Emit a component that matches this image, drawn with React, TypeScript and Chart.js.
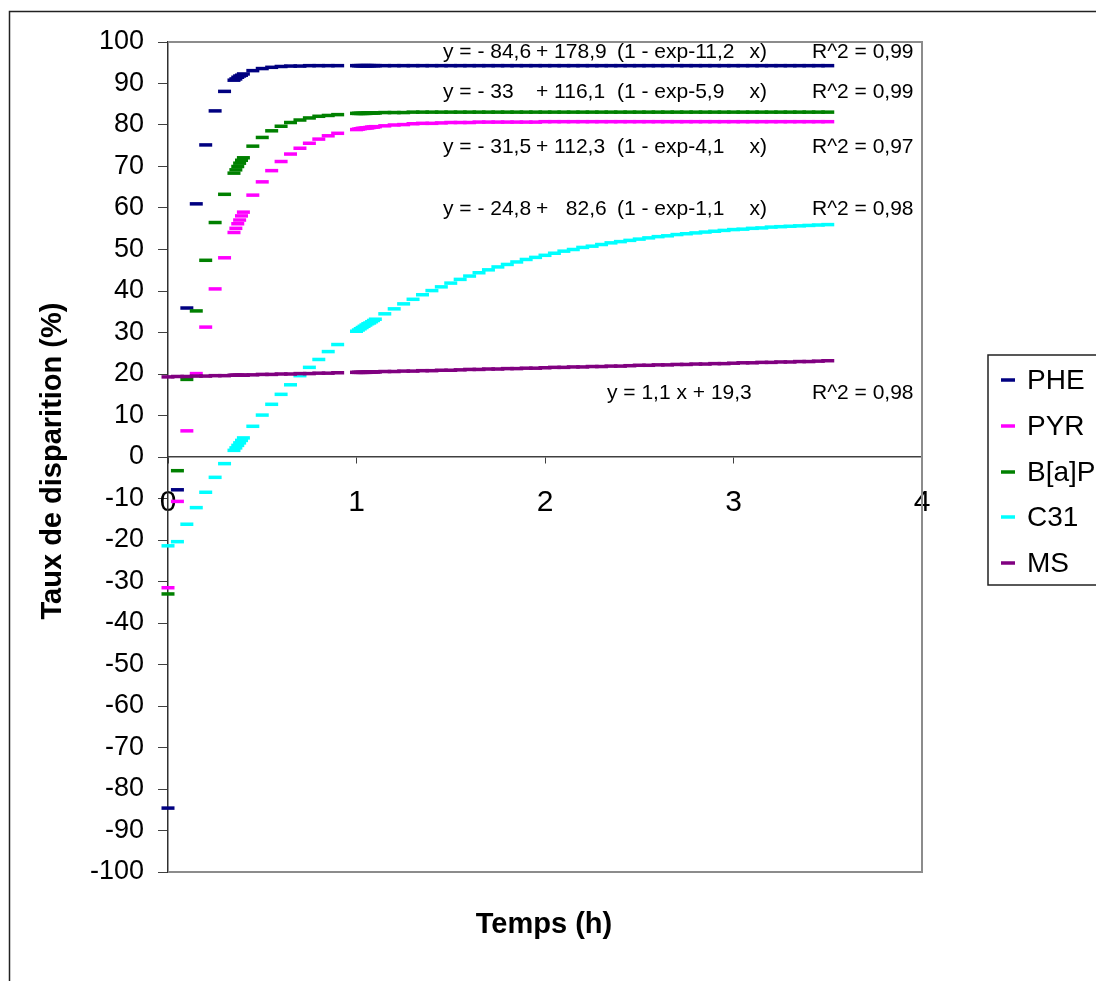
import React, { useEffect, useRef } from 'react';
import { Chart, registerables } from 'chart.js';

Chart.register(...registerables);

// ---------- data ----------
const TIME_H = [
  0, 0.05, 0.1, 0.15, 0.2, 0.25, 0.3,
  0.35, 0.36, 0.37, 0.38, 0.39, 0.4,
  0.45, 0.5, 0.55, 0.6, 0.65, 0.7, 0.75, 0.8, 0.85, 0.9,
  1.0, 1.01, 1.02, 1.03, 1.04, 1.05, 1.06, 1.07, 1.08, 1.09, 1.1,
  1.15, 1.2, 1.25, 1.3, 1.35, 1.4, 1.45, 1.5, 1.55, 1.6, 1.65, 1.7, 1.75, 1.8, 1.85, 1.9, 1.95, 2.0,
  2.05, 2.1, 2.15, 2.2, 2.25, 2.3, 2.35, 2.4, 2.45, 2.5, 2.55, 2.6, 2.65, 2.7, 2.75, 2.8, 2.85, 2.9, 2.95, 3.0,
  3.05, 3.1, 3.15, 3.2, 3.25, 3.3, 3.35, 3.4, 3.45, 3.5,
];

const PHE = [
  -84.6, -7.9, 35.9, 61.0, 75.2, 83.4, 88.1,
  90.8, 91.1, 91.5, 91.8, 92.0, 92.3,
  93.1, 93.6, 93.9, 94.1, 94.2, 94.2, 94.3, 94.3, 94.3, 94.3,
  94.3, 94.3, 94.3, 94.3, 94.3, 94.3, 94.3, 94.3, 94.3, 94.3, 94.3,
  94.3, 94.3, 94.3, 94.3, 94.3, 94.3, 94.3, 94.3, 94.3, 94.3, 94.3, 94.3, 94.3, 94.3, 94.3, 94.3, 94.3, 94.3,
  94.3, 94.3, 94.3, 94.3, 94.3, 94.3, 94.3, 94.3, 94.3, 94.3, 94.3, 94.3, 94.3, 94.3, 94.3, 94.3, 94.3, 94.3, 94.3, 94.3,
  94.3, 94.3, 94.3, 94.3, 94.3, 94.3, 94.3, 94.3, 94.3, 94.3,
];

const PYR = [
  -31.5, -10.7, 6.3, 20.1, 31.3, 40.5, 48.0,
  54.1, 55.1, 56.2, 57.1, 58.1, 59.0,
  63.1, 66.3, 69.0, 71.2, 73.0, 74.4, 75.6, 76.6, 77.4, 78.0,
  78.9, 79.0, 79.1, 79.2, 79.2, 79.3, 79.3, 79.4, 79.5, 79.5, 79.6,
  79.8, 80.0, 80.1, 80.3, 80.4, 80.4, 80.5, 80.6, 80.6, 80.6, 80.7, 80.7, 80.7, 80.7, 80.7, 80.7, 80.7, 80.8,
  80.8, 80.8, 80.8, 80.8, 80.8, 80.8, 80.8, 80.8, 80.8, 80.8, 80.8, 80.8, 80.8, 80.8, 80.8, 80.8, 80.8, 80.8, 80.8, 80.8,
  80.8, 80.8, 80.8, 80.8, 80.8, 80.8, 80.8, 80.8, 80.8, 80.8,
];

const BAP = [
  -33.0, -3.3, 18.7, 35.2, 47.4, 56.5, 63.3,
  68.4, 69.2, 70.0, 70.8, 71.5, 72.1,
  74.9, 77.0, 78.6, 79.7, 80.6, 81.2, 81.7, 82.1, 82.3, 82.5,
  82.8, 82.8, 82.8, 82.8, 82.8, 82.8, 82.9, 82.9, 82.9, 82.9, 82.9,
  83.0, 83.0, 83.0, 83.1, 83.1, 83.1, 83.1, 83.1, 83.1, 83.1, 83.1, 83.1, 83.1, 83.1, 83.1, 83.1, 83.1, 83.1,
  83.1, 83.1, 83.1, 83.1, 83.1, 83.1, 83.1, 83.1, 83.1, 83.1, 83.1, 83.1, 83.1, 83.1, 83.1, 83.1, 83.1, 83.1, 83.1, 83.1,
  83.1, 83.1, 83.1, 83.1, 83.1, 83.1, 83.1, 83.1, 83.1, 83.1,
];

const C31 = [
  -21.4, -20.4, -16.2, -12.2, -8.5, -4.9, -1.6,
  1.6, 2.2, 2.8, 3.4, 4.0, 4.6,
  7.4, 10.1, 12.7, 15.1, 17.4, 19.6, 21.6, 23.5, 25.4, 27.1,
  30.3, 30.6, 30.9, 31.2, 31.5, 31.8, 32.1, 32.3, 32.6, 32.9, 33.2,
  34.5, 35.7, 36.9, 38.0, 39.1, 40.1, 41.0, 41.9, 42.8, 43.6, 44.4, 45.1, 45.8, 46.4, 47.0, 47.6, 48.1, 48.6,
  49.1, 49.6, 50.0, 50.5, 50.8, 51.2, 51.6, 51.9, 52.2, 52.5, 52.8, 53.1, 53.3, 53.6, 53.8, 54.0, 54.2, 54.4, 54.6, 54.8,
  54.9, 55.1, 55.2, 55.4, 55.5, 55.6, 55.7, 55.8, 55.9, 56.0,
];

const MS = [
  19.3, 19.4, 19.4, 19.5, 19.5, 19.6, 19.6,
  19.7, 19.7, 19.7, 19.7, 19.7, 19.7,
  19.8, 19.9, 19.9, 20.0, 20.0, 20.1, 20.1, 20.2, 20.2, 20.3,
  20.4, 20.4, 20.4, 20.4, 20.4, 20.4, 20.5, 20.5, 20.5, 20.5, 20.5,
  20.6, 20.6, 20.7, 20.7, 20.8, 20.8, 20.9, 20.9, 21.0, 21.1, 21.1, 21.2, 21.2, 21.3, 21.3, 21.4, 21.4, 21.5,
  21.6, 21.6, 21.7, 21.7, 21.8, 21.8, 21.9, 21.9, 22.0, 22.1, 22.1, 22.2, 22.2, 22.3, 22.3, 22.4, 22.4, 22.5, 22.5, 22.6,
  22.7, 22.7, 22.8, 22.8, 22.9, 22.9, 23.0, 23.0, 23.1, 23.2,
];

const SERIES_NAMES = ['PHE', 'PYR', 'B[a]P', 'C31', 'MS'];
const SERIES_VALUES = [PHE, PYR, BAP, C31, MS];
const SERIES_COLORS = ['#000080', '#FF00FF', '#008000', '#00FFFF', '#800080'];

const X_TITLE = 'Temps (h)';
const Y_TITLE = 'Taux de disparition (%)';

// regression equations (parts aligned in columns) and R^2 texts
const EQ_LEFT = ['y = - 84,6', 'y = - 33', 'y = - 31,5', 'y = - 24,8'];
const EQ_COEF = ['+ 178,9', '+ 116,1', '+ 112,3', '+   82,6'];
const EQ_EXP = ['(1 - exp-11,2', '(1 - exp-5,9', '(1 - exp-4,1', '(1 - exp-1,1'];
const EQ_R2 = ['R^2 = 0,99', 'R^2 = 0,99', 'R^2 = 0,97', 'R^2 = 0,98'];
const MS_EQ = 'y = 1,1 x + 19,3';
const MS_R2 = 'R^2 = 0,98';

const FONT = "'Liberation Sans', Arial, Helvetica, sans-serif";

export default function App() {
  const canvasRef = useRef<HTMLCanvasElement | null>(null);

  useEffect(() => {
    const canvas = canvasRef.current;
    if (!canvas) return;

    const decorPlugin = {
      id: 'decor',
      beforeDatasetsDraw(chart: any) {
        const { ctx, chartArea: a } = chart;
        ctx.save();
        ctx.strokeStyle = '#8c8c8c';
        ctx.lineWidth = 2;
        ctx.beginPath();
        ctx.moveTo(a.left, a.top);
        ctx.lineTo(a.right, a.top);
        ctx.lineTo(a.right, a.bottom);
        ctx.lineTo(a.left, a.bottom);
        ctx.stroke();
        ctx.restore();
      },
      afterDraw(chart: any) {
        const { ctx, chartArea: a } = chart;
        ctx.save();
        // outer chart border
        ctx.strokeStyle = '#222';
        ctx.lineWidth = 1.5;
        ctx.strokeRect(9.5, 11.5, 1300, 1300);

        // axis titles
        ctx.fillStyle = '#000';
        ctx.font = `bold 29px ${FONT}`;
        ctx.textAlign = 'center';
        ctx.textBaseline = 'middle';
        ctx.fillText(X_TITLE, (a.left + a.right) / 2 - 1, 925);
        ctx.save();
        ctx.translate(53, (a.top + a.bottom) / 2 + 4);
        ctx.rotate(-Math.PI / 2);
        ctx.fillText(Y_TITLE, 0, 0);
        ctx.restore();

        // equations
        ctx.font = `21px ${FONT}`;
        ctx.textBaseline = 'middle';
        const rows = [52, 92, 147, 209];
        rows.forEach((y, i) => {
          ctx.textAlign = 'left';
          ctx.fillText(EQ_LEFT[i], 443, y);
          ctx.fillText(EQ_COEF[i], 536, y);
          ctx.fillText(EQ_EXP[i], 617, y);
          ctx.textAlign = 'right';
          ctx.fillText('x)', 767, y);
          ctx.textAlign = 'left';
          ctx.fillText(EQ_R2[i], 812, y);
        });
        ctx.fillText(MS_EQ, 607, 393);
        ctx.fillText(MS_R2, 812, 393);

        // legend
        ctx.strokeStyle = '#222';
        ctx.lineWidth = 1.5;
        ctx.strokeRect(988, 355, 200, 230);
        const ly = [380, 426, 472, 517, 563];
        ctx.font = `28px ${FONT}`;
        ctx.textAlign = 'left';
        SERIES_NAMES.forEach((name, i) => {
          ctx.strokeStyle = SERIES_COLORS[i];
          ctx.lineWidth = 3.5;
          ctx.beginPath();
          ctx.moveTo(1001, ly[i]);
          ctx.lineTo(1015, ly[i]);
          ctx.stroke();
          ctx.fillStyle = '#000';
          ctx.fillText(name, 1027, ly[i] + 1);
        });
        ctx.restore();
      },
    };

    const datasets = SERIES_NAMES.map((name, i) => ({
      label: name,
      data: TIME_H.map((x, k) => ({ x, y: SERIES_VALUES[i][k] })),
      showLine: false,
      pointStyle: 'line',
      pointRadius: 6.5,
      pointHoverRadius: 6.5,
      pointBorderWidth: 3.5,
      borderWidth: 3.5,
      borderColor: SERIES_COLORS[i],
      backgroundColor: SERIES_COLORS[i],
      clip: false,
      order: 5 - i,
    }));

    const chart = new Chart(canvas, {
      type: 'scatter',
      data: { datasets } as any,
      plugins: [decorPlugin],
      options: {
        animation: false,
        responsive: false,
        maintainAspectRatio: false,
        layout: { padding: { left: 20, right: 1096 - 922, top: 42, bottom: 981 - 872 } },
        plugins: { legend: { display: false }, tooltip: { enabled: false } },
        events: [],
        scales: {
          x: {
            type: 'linear',
            min: 0,
            max: 4,
            position: { y: 0 } as any,
            ticks: {
              stepSize: 1,
              color: '#000',
              font: { size: 30, family: FONT },
              padding: 22,
              maxRotation: 0,
            },
            grid: { drawOnChartArea: false, drawTicks: true, tickLength: 6, color: '#404040', lineWidth: 1 },
            border: { display: true, color: '#404040', width: 1.5 },
            afterFit(scale: any) {
              scale.paddingLeft = 0;
              scale.paddingRight = 0;
            },
          },
          y: {
            type: 'linear',
            min: -100,
            max: 100,
            position: 'left',
            ticks: {
              stepSize: 10,
              autoSkip: false,
              color: '#000',
              font: { size: 27, family: FONT },
              padding: 14,
            },
            grid: { drawOnChartArea: false, drawTicks: true, tickLength: 10, color: '#404040', lineWidth: 1 },
            border: { display: true, color: '#303030', width: 1.5 },
            afterFit(scale: any) {
              scale.width = 148;
              scale.paddingTop = 0;
              scale.paddingBottom = 0;
            },
          },
        },
      } as any,
    });

    return () => chart.destroy();
  }, []);

  return (
    <div
      style={{
        position: 'fixed',
        left: 0,
        top: 0,
        width: 1096,
        height: 981,
        overflow: 'hidden',
        background: '#fff',
      }}
    >
      <canvas ref={canvasRef} width={1096} height={981} style={{ width: 1096, height: 981, display: 'block' }} />
    </div>
  );
}
